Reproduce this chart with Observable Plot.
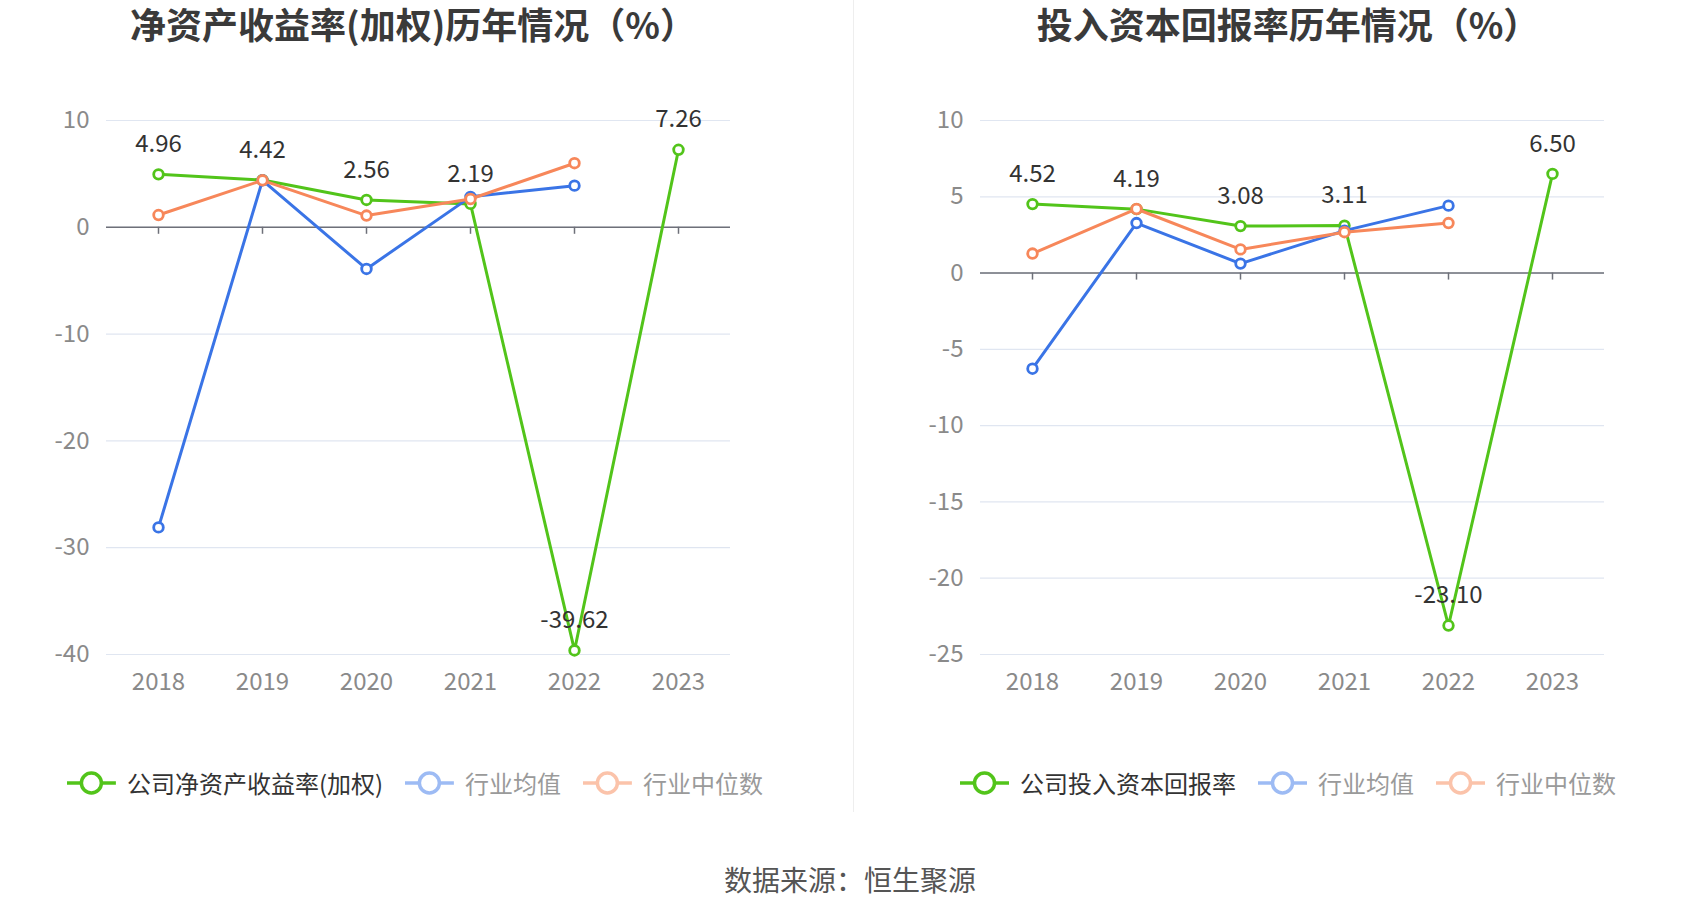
<!DOCTYPE html>
<html>
<head>
<meta charset="utf-8">
<script src="https://cdn.jsdelivr.net/npm/d3@7"></script>
<script src="https://cdn.jsdelivr.net/npm/@observablehq/plot@0.6"></script>
<style>
  html, body { margin: 0; padding: 0; background: #fff; }
  body { width: 1700px; height: 918px; position: relative; overflow: hidden;
         font-family: "Noto Sans CJK SC", "Noto Sans", sans-serif; }
  .panel { position: absolute; top: 0; width: 850px; height: 720px; }
  .title { position: absolute; top: 1px; font-size: 36px; font-weight: bold; color: #3a3a3a;
           white-space: nowrap; transform: translateX(-50%); line-height: 44px; }
  .legend { position: absolute; top: 768px; transform: translateX(-50%); display: flex;
            align-items: center; white-space: nowrap; font-size: 24px; line-height: 30px; }
  .legend .item { display: flex; align-items: center; margin-right: 22px; }
  .legend .item:last-child { margin-right: 0; }
  .legend svg { margin-right: 11px; }
  .divider { position: absolute; left: 853px; top: 0; width: 1px; height: 812px; background: #eeeeee; }
  .source { position: absolute; top: 861px; left: 850px; transform: translateX(-50%);
            font-size: 28px; color: #555; white-space: nowrap; line-height: 36px; }
</style>
</head>
<body>
<div id="left" class="panel" style="left:0"></div>
<div id="right" class="panel" style="left:850px"></div>
<div class="title" style="left:413px">净资产收益率(加权)历年情况（%）</div>
<div class="title" style="left:1288px">投入资本回报率历年情况（%）</div>
<div class="divider"></div>
<div id="legendLeft" class="legend" style="left:415px"></div>
<div id="legendRight" class="legend" style="left:1288px"></div>
<div class="source">数据来源：恒生聚源</div>
<script>
// ---- data ----
const years = ["2018", "2019", "2020", "2021", "2022", "2023"];

const roeCompany = [4.96, 4.42, 2.56, 2.19, -39.62, 7.26];
const roeMean    = [-28.1, 4.4, -3.9, 2.85, 3.9, null];
const roeMedian  = [1.15, 4.4, 1.1, 2.65, 6.0, null];

const roicCompany = [4.52, 4.19, 3.08, 3.11, -23.10, 6.50];
const roicMean    = [-6.27, 3.28, 0.62, 2.78, 4.42, null];
const roicMedian  = [1.28, 4.2, 1.55, 2.68, 3.28, null];

const roeTicks  = [-40, -30, -20, -10, 0, 10];
const roicTicks = [-25, -20, -15, -10, -5, 0, 5, 10];

const seriesLeft  = ["公司净资产收益率(加权)", "行业均值", "行业中位数"];
const seriesRight = ["公司投入资本回报率", "行业均值", "行业中位数"];

const colors      = ["#52c41a", "#3a74e6", "#f7875a"];
const legendColor = ["#52c41a", "#9dbbf4", "#fbc3aa"];
const legendText  = ["#333333", "#9a9a9a", "#9a9a9a"];

function rows(vals) {
  return years.map((y, i) => ({year: y, value: vals[i]})).filter(d => d.value != null);
}

function chart(el, company, mean, median, ticks, domain, mLeft, mRight) {
  const series = [rows(company), rows(mean), rows(median)];
  const marks = [
    Plot.gridY(ticks, {stroke: "#e0e6f1", strokeOpacity: 1, strokeWidth: 1.2}),
    Plot.axisY(ticks, {tickSize: 0, tickPadding: 17, fontSize: 24, fill: "#8a8a8a", tickFormat: d => d, label: null}),
    Plot.axisX({anchor: "bottom", tickSize: 0, tickPadding: 18, fontSize: 24, fill: "#8a8a8a", label: null}),
    Plot.ruleY([0], {stroke: "#6e7079", strokeWidth: 1.5}),
    Plot.ruleX(years, {x: d => d, y1: 0, y2: 0, insetBottom: -7, stroke: "#6e7079", strokeWidth: 1.5})
  ];
  series.forEach((data, k) => {
    marks.push(Plot.line(data, {x: "year", y: "value", stroke: colors[k], strokeWidth: 3}));
    marks.push(Plot.dot(data, {x: "year", y: "value", r: 4.8, fill: "#fff", stroke: colors[k], strokeWidth: 2.8}));
  });
  marks.push(Plot.text(series[0], {x: "year", y: "value", text: d => d.value.toFixed(2), dy: -30,
    fontSize: 24, fill: "#333"}));
  const svg = Plot.plot({
    width: 850, height: 720,
    marginLeft: mLeft, marginRight: mRight, marginTop: 120, marginBottom: 66,
    style: {fontFamily: "'Noto Sans CJK SC', 'Noto Sans', sans-serif", background: "transparent", overflow: "visible"},
    x: {type: "point", domain: years, padding: 0.5, axis: null},
    y: {domain: domain, axis: null},
    marks
  });
  document.getElementById(el).appendChild(svg);
}

chart("left", roeCompany, roeMean, roeMedian, roeTicks, [-40, 10], 106, 120);
chart("right", roicCompany, roicMean, roicMedian, roicTicks, [-25, 10], 130, 96);

function legend(el, names) {
  const box = document.getElementById(el);
  names.forEach((name, k) => {
    const item = document.createElement("div");
    item.className = "item";
    item.innerHTML =
      `<svg width="49" height="26" viewBox="0 0 49 26">
         <line x1="0" y1="13" x2="49" y2="13" stroke="${legendColor[k]}" stroke-width="3.5"/>
         <circle cx="24.5" cy="13" r="10" fill="#fff" stroke="${legendColor[k]}" stroke-width="3.5"/>
       </svg><span style="color:${legendText[k]}">${name}</span>`;
    box.appendChild(item);
  });
}
legend("legendLeft", seriesLeft);
legend("legendRight", seriesRight);
</script>
</body>
</html>
